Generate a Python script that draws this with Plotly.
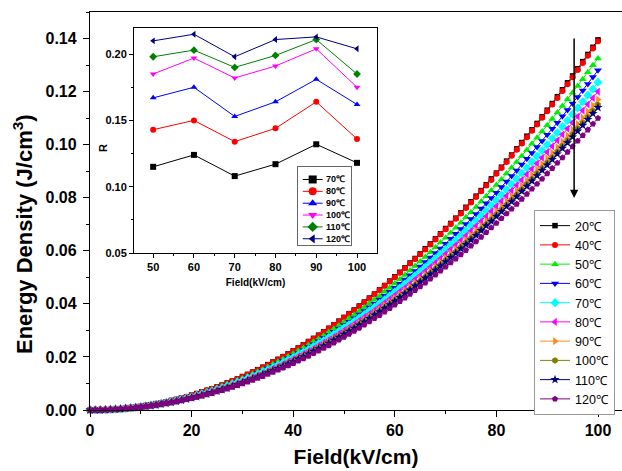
import plotly.graph_objects as go

# ---------------- main chart data ----------------
field = list(range(0, 101))  # kV/cm
temps_main = ["20℃", "40℃", "50℃", "60℃", "70℃", "80℃", "90℃", "100℃", "110℃", "120℃"]
# energy density values stored in units of 1e-4 J/cm^3
ed_20C = [0,0,1,1,2,3,5,7,9,11, 14,17,20,24,27,31,36,40,45,50, 56,62,68,74,80,87,94,102,109,117,
          126,134,143,152,161,171,181,191,201,212, 223,234,246,258,270,282,295,308,321,335,
          349,363,377,392,407,422,437,453,469,486, 502,519,536,554,571,589,608,626,645,664,
          684,703,723,743,764,785,806,827,849,871, 893,915,938,961,984,1008,1032,1056,1080,1105,
          1130,1155,1181,1207,1233,1259,1286,1313,1340,1367, 1395]
ed_40C = [0,0,1,1,2,3,5,7,9,11, 14,17,20,23,27,31,36,40,45,50, 56,61,67,74,80,87,94,101,109,117,
          125,134,142,151,161,170,180,190,201,211, 222,234,245,257,269,281,294,307,320,334,
          348,362,376,390,405,420,436,452,468,484, 500,517,534,552,569,587,605,624,643,662,
          681,701,721,741,761,782,803,824,846,867, 890,912,935,958,981,1004,1028,1052,1076,1101,
          1126,1151,1176,1202,1228,1254,1281,1308,1335,1362, 1390]
ed_50C = [0,0,1,1,2,3,5,6,8,11, 13,16,19,22,26,30,34,38,43,48, 53,58,64,70,76,83,90,97,104,111,
          119,127,136,144,153,162,172,181,191,202, 212,223,234,245,257,268,280,293,305,318,
          331,345,358,372,386,401,416,430,446,461, 477,493,509,526,543,560,577,595,613,631,
          649,668,687,706,726,745,765,786,806,827, 848,869,891,913,935,957,980,1003,1026,1050,
          1073,1097,1121,1146,1171,1196,1221,1247,1273,1299, 1325]
ed_60C = [0,0,1,1,2,3,5,6,8,10, 13,15,18,22,25,29,33,37,41,46, 51,56,62,68,74,80,87,93,100,108,
          115,123,131,139,148,157,166,175,185,195, 205,215,226,237,248,259,271,283,295,307,
          320,333,346,360,373,387,401,416,431,446, 461,476,492,508,524,541,558,575,592,609,
          627,645,664,682,701,720,739,759,779,799, 819,840,861,882,903,925,947,969,991,1014,
          1037,1060,1083,1107,1131,1155,1180,1204,1229,1255, 1280]
ed_70C = [0,0,0,1,2,3,4,6,8,10, 12,15,18,21,24,28,32,36,40,45, 49,54,60,65,71,77,83,90,97,104,
          111,119,126,134,143,151,160,169,178,188, 198,208,218,228,239,250,261,273,285,297,
          309,321,334,347,360,374,387,401,415,430, 445,460,475,490,506,522,538,554,571,588,
          605,623,640,658,676,695,713,732,751,771, 790,810,830,851,871,892,913,935,956,978,
          1000,1023,1045,1068,1091,1115,1138,1162,1186,1210, 1235]
ed_80C = [0,0,0,1,2,3,4,6,8,10, 12,15,17,20,24,27,31,35,39,43, 48,53,58,63,69,75,81,87,94,101,
          108,115,123,131,139,147,156,164,173,183, 192,202,212,222,232,243,254,265,276,288,
          300,312,324,337,350,363,376,390,404,418, 432,447,461,476,492,507,523,539,555,571,
          588,605,622,639,657,675,693,711,730,749, 768,787,807,827,847,867,888,908,929,951,
          972,994,1016,1038,1060,1083,1106,1129,1152,1176, 1200]
ed_90C = [0,0,0,1,2,3,4,6,7,9, 12,14,17,20,23,26,30,34,38,42, 47,52,57,62,67,73,79,85,92,98,
          105,112,120,127,135,143,152,160,169,178, 187,197,206,216,227,237,248,258,270,281,
          293,304,316,329,341,354,367,380,394,407, 421,435,450,464,479,494,510,525,541,557,
          573,590,607,623,641,658,676,694,712,730, 749,768,787,806,826,845,865,886,906,927,
          948,969,990,1012,1034,1056,1078,1101,1124,1147, 1170]
ed_100C = [0,0,0,1,2,3,4,6,7,9, 11,14,17,19,23,26,29,33,37,42, 46,51,56,61,66,72,78,84,90,97,
           103,111,118,125,133,141,149,157,166,175, 184,193,203,213,223,233,243,254,265,276,
           288,299,311,323,335,348,361,374,387,400, 414,428,442,456,471,486,501,516,532,548,
           564,580,596,613,630,647,664,682,700,718, 736,755,773,792,811,831,851,870,891,911,
           932,952,973,995,1016,1038,1060,1082,1104,1127, 1150]
ed_110C = [0,0,0,1,2,3,4,6,7,9, 11,14,16,19,22,26,29,33,37,41, 46,50,55,60,66,71,77,83,89,96,
           103,110,117,124,132,140,148,156,165,173, 182,192,201,211,221,231,241,252,263,274,
           285,297,308,320,332,345,358,370,383,397, 410,424,438,452,467,482,497,512,527,543,
           559,575,591,608,624,641,658,676,694,711, 730,748,767,785,804,824,843,863,883,903,
           923,944,965,986,1007,1029,1051,1073,1095,1117, 1140]
ed_120C = [0,0,0,1,2,3,4,5,7,9, 11,13,16,19,22,25,28,32,36,40, 44,49,53,58,63,69,74,80,86,93,
           99,106,113,120,127,135,143,151,159,167, 176,185,194,203,213,223,233,243,253,264,
           275,286,297,309,321,333,345,357,370,383, 396,409,423,437,451,465,479,494,509,524,
           539,555,570,586,602,619,635,652,669,687, 704,722,740,758,776,795,814,833,852,871,
           891,911,931,951,972,993,1014,1035,1056,1078, 1100]
main_series = [ed_20C, ed_40C, ed_50C, ed_60C, ed_70C, ed_80C, ed_90C, ed_100C, ed_110C, ed_120C]
UNIT = 1e-4

# ---------------- inset data ----------------
inset_field = [50, 60, 70, 80, 90, 100]
temps_inset = ["70℃", "80℃", "90℃", "100℃", "110℃", "120℃"]
r_70C = [0.115, 0.124, 0.108, 0.117, 0.132, 0.118]
r_80C = [0.143, 0.150, 0.134, 0.144, 0.164, 0.136]
r_90C = [0.167, 0.175, 0.153, 0.164, 0.181, 0.162]
r_100C = [0.185, 0.197, 0.182, 0.191, 0.204, 0.175]
r_110C = [0.198, 0.203, 0.190, 0.199, 0.211, 0.185]
r_120C = [0.210, 0.215, 0.198, 0.211, 0.213, 0.204]
inset_series = [r_70C, r_80C, r_90C, r_100C, r_110C, r_120C]

# ---------------- styles ----------------
FONT = "Arial, 'Liberation Sans', sans-serif"
main_colors = ["#000000", "#FF0000", "#00EE00", "#0000FF", "#00FFFF", "#FF00FF",
               "#FF8C1A", "#808000", "#000080", "#800080"]
main_symbols = ["square", "circle", "triangle-up", "triangle-down", "diamond", "triangle-left",
                "triangle-right", "hexagon", "star", "pentagon"]
main_sizes = [5.5, 6, 7, 7, 7, 7, 7, 6.5, 7, 6.5]
inset_colors = ["#000000", "#FF0000", "#0000FF", "#FF00FF", "#008000", "#000080"]
inset_symbols = ["square", "circle", "triangle-up", "triangle-down", "diamond", "triangle-left"]

W, H = 622, 471
L, R, T, B = 90, 0, 12, 61
pw, ph = W - L - R, H - T - B

def px_x(p):
    return (p - L) / pw

def px_y(p):
    return (H - B - p) / ph

fig = go.Figure()

for name, vals, c, s, sz in zip(temps_main, main_series, main_colors, main_symbols, main_sizes):
    fig.add_trace(go.Scatter(
        x=field, y=[v * UNIT for v in vals], name=name, mode="lines+markers",
        line=dict(color=c, width=1),
        marker=dict(symbol=s, size=sz, color=c, line=dict(width=0)),
        cliponaxis=False, xaxis="x", yaxis="y"))

for name, vals, c, s in zip(temps_inset, inset_series, inset_colors, inset_symbols):
    fig.add_trace(go.Scatter(
        x=inset_field, y=vals, name=name, mode="lines+markers", showlegend=False,
        line=dict(color=c, width=1),
        marker=dict(symbol=s, size=6, color=c, line=dict(width=0)),
        xaxis="x2", yaxis="y2"))

# inset legend (drawn in its own small frame)
row_top, row_step = 0.84, 0.152
for i, (name, c, s) in enumerate(zip(temps_inset, inset_colors, inset_symbols)):
    yc = row_top - i * row_step
    fig.add_trace(go.Scatter(x=[0.09, 0.465], y=[yc, yc], mode="lines", showlegend=False,
                             line=dict(color=c, width=1), xaxis="x3", yaxis="y3",
                             hoverinfo="skip"))
    fig.add_trace(go.Scatter(x=[0.277], y=[yc], mode="markers", showlegend=False,
                             marker=dict(symbol=s, size=8, color=c, line=dict(width=0)),
                             xaxis="x3", yaxis="y3", hoverinfo="skip"))
    fig.add_annotation(x=0.49, y=yc, xref="x3", yref="y3", text="<b>" + name + "</b>",
                       showarrow=False, xanchor="left", yanchor="middle",
                       font=dict(family=FONT, size=9, color="black"))

# arrow (temperature increase direction)
arrow_x, arrow_top, arrow_tip = 95.3, 0.1406, 0.0799
fig.add_annotation(x=arrow_x, y=arrow_tip, ax=arrow_x, ay=arrow_top,
                   xref="x", yref="y", axref="x", ayref="y", text="",
                   showarrow=True, arrowhead=2, arrowsize=1.1, arrowwidth=1.5,
                   arrowcolor="black")

# axis titles placed as in the reference
fig.add_annotation(x=px_x(23), y=px_y(234), xref="paper", yref="paper",
                   text="<b>Energy Density (J/cm<sup>3</sup>)</b>", textangle=-90,
                   showarrow=False, xanchor="center", yanchor="middle",
                   font=dict(family=FONT, size=22, color="black"))
fig.add_annotation(x=px_x(103), y=px_y(148), xref="paper", yref="paper",
                   text="<b>R</b>", textangle=-90,
                   showarrow=False, xanchor="center", yanchor="middle",
                   font=dict(family=FONT, size=11, color="black"))

axis_common = dict(showgrid=False, zeroline=False, showline=True, linecolor="black",
                   ticks="outside", tickcolor="black")

fig.update_layout(
    width=W, height=H,
    margin=dict(l=L, r=R, t=T, b=B),
    paper_bgcolor="white", plot_bgcolor="white",
    font=dict(family=FONT, color="black"),
    xaxis=dict(**axis_common, range=[0, pw / 5.08], domain=[0, 1], anchor="y",
               dtick=20, tick0=0, ticklen=6, tickwidth=1.2, linewidth=1.3, mirror=True,
               minor=dict(ticks="outside", dtick=10, ticklen=3, tickcolor="black"),
               tickfont=dict(size=16, weight="bold"),
               title=dict(text="Field(kV/cm)", font=dict(size=21, weight="bold"), standoff=10)),
    yaxis=dict(**axis_common, range=[0, 0.15], domain=[0, 1], anchor="x",
               dtick=0.02, tick0=0, tickformat=".2f", ticklen=6, tickwidth=1.2, linewidth=1.3,
               minor=dict(ticks="outside", dtick=0.01, ticklen=3, tickcolor="black"),
               tickfont=dict(size=16, weight="bold"), ticklabelstandoff=3),
    xaxis2=dict(**axis_common, domain=[px_x(134), px_x(377)], anchor="y2",
                range=[45.3, 104.9], dtick=10, tick0=50, ticklen=4, linewidth=1, mirror=True,
                minor=dict(ticks="outside", dtick=5, ticklen=2, tickcolor="black"),
                tickfont=dict(size=11, weight="bold"),
                title=dict(text="Field(kV/cm)", font=dict(size=10, weight="bold"), standoff=6)),
    yaxis2=dict(**axis_common, domain=[px_y(253), px_y(28)], anchor="x2",
                range=[0.05, 0.2197], dtick=0.05, tick0=0.05, tickformat=".2f", ticklen=4,
                linewidth=1, mirror=True,
                minor=dict(ticks="outside", dtick=0.025, ticklen=2, tickcolor="black"),
                tickfont=dict(size=11, weight="bold")),
    xaxis3=dict(domain=[px_x(298), px_x(351)], anchor="y3", range=[0, 1], showgrid=False,
                zeroline=False, showticklabels=False, ticks="", showline=True, mirror=True,
                linecolor="#666666", linewidth=1, fixedrange=True),
    yaxis3=dict(domain=[px_y(245), px_y(167)], anchor="x3", range=[0, 1], showgrid=False,
                zeroline=False, showticklabels=False, ticks="", showline=True, mirror=True,
                linecolor="#666666", linewidth=1, fixedrange=True),
    legend=dict(x=px_x(534), y=px_y(210), xanchor="left", yanchor="top",
                bordercolor="#999999", borderwidth=1, bgcolor="white",
                font=dict(family=FONT, size=12.5, color="black"),
                itemwidth=30, tracegroupgap=0, traceorder="normal"),
    showlegend=True,
)

fig.write_html("out.html")
